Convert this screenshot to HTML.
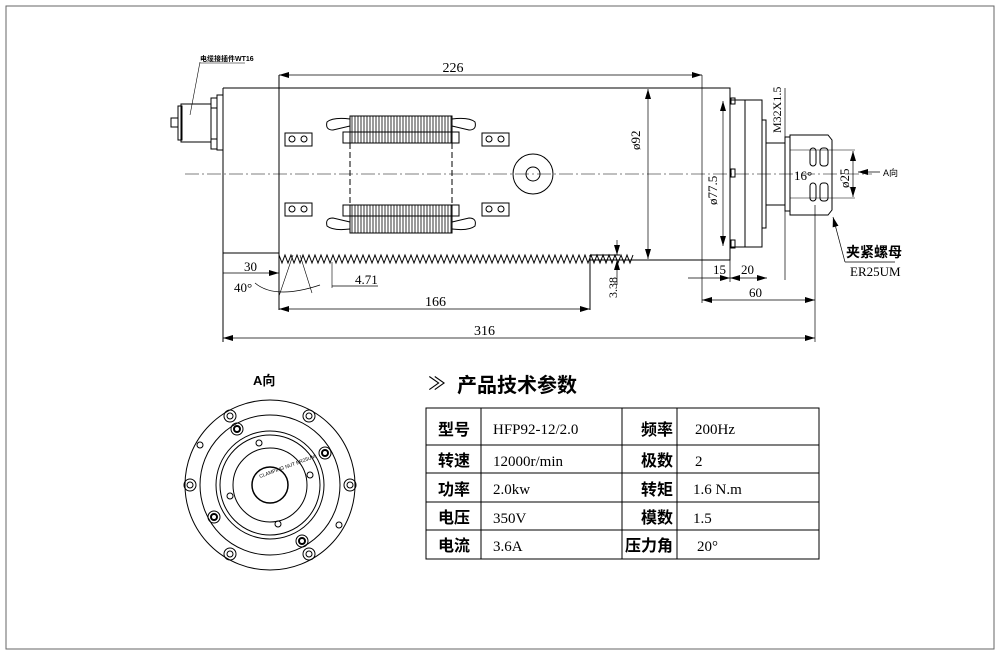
<!DOCTYPE html>
<html><head><meta charset="utf-8"><style>
html,body{margin:0;padding:0;background:#fff}
svg{display:block}
text{font-family:"Liberation Sans","Noto Sans CJK SC",sans-serif;fill:#000}
.n{font-family:"Liberation Serif","Noto Sans CJK SC",serif;}
</style></head><body>
<svg width="1000" height="659" viewBox="0 0 1000 659" xmlns="http://www.w3.org/2000/svg">
<defs>
<marker id="a" markerWidth="10" markerHeight="6" refX="10" refY="3" orient="auto-start-reverse" markerUnits="userSpaceOnUse"><path d="M0,0 L10,3 L0,6z" fill="#000"/></marker>
<pattern id="h" width="3" height="4" patternUnits="userSpaceOnUse"><line x1="1" y1="0" x2="1" y2="4" stroke="#000" stroke-width="0.8"/></pattern>
</defs>
<rect x="6" y="6" width="988" height="643" fill="none" stroke="#666" stroke-width="1"/>
<g fill="none" stroke="#000" stroke-width="1">
<line x1="185" y1="174" x2="872" y2="174" stroke-dasharray="14,3,2,3" stroke-width="0.6"/>
<rect x="217" y="95" width="6" height="55"/>
<rect x="211" y="98" width="6" height="10"/><rect x="211" y="139" width="6" height="10"/>
<rect x="181" y="104" width="30" height="38"/>
<rect x="178" y="106" width="4" height="34"/>
<rect x="171" y="118" width="7" height="9"/>
<line x1="190" y1="115" x2="200" y2="62" stroke-width="0.6"/>
<line x1="200" y1="63" x2="245" y2="63" stroke-width="0.6"/>
<path d="M223,88 H730 V260 H590"/>
<path d="M223,88 V253 H279"/>
<line x1="279" y1="75" x2="279" y2="310"/>
<line x1="223" y1="253" x2="223" y2="342"/>
<path d="M279,255 l3,8 l3,-8 l3,8 l3,-8 l3,8 l3,-8 l3,8 l3,-8 l3,8 l3,-8 l3,8 l3,-8 l3,8 l3,-8 l3,8 l3,-8 l3,8 l3,-8 l3,8 l3,-8 l3,8 l3,-8 l3,8 l3,-8 l3,8 l3,-8 l3,8 l3,-8 l3,8 l3,-8 l3,8 l3,-8 l3,8 l3,-8 l3,8 l3,-8 l3,8 l3,-8 l3,8 l3,-8 l3,8 l3,-8 l3,8 l3,-8 l3,8 l3,-8 l3,8 l3,-8 l3,8 l3,-8 l3,8 l3,-8 l3,8 l3,-8 l3,8 l3,-8 l3,8 l3,-8 l3,8 l3,-8 l3,8 l3,-8 l3,8 l3,-8 l3,8 l3,-8 l3,8 l3,-8 l3,8 l3,-8 l3,8 l3,-8 l3,8 l3,-8 l3,8 l3,-8 l3,8 l3,-8 l3,8 l3,-8 l3,8 l3,-8 l3,8 l3,-8 l3,8 l3,-8 l3,8 l3,-8 l3,8 l3,-8 l3,8 l3,-8 l3,8 l3,-8 l3,8 l3,-8 l3,8 l3,-8 l3,8 l3,-8 l3,8 l3,-8 l3,8 l3,-8 l3,8 l3,-8 l3,8 l3,-8 l3,8 l3,-8 l3,8 l3,-8 l3,8 l3,-8 l3,8 l3,-8 l3,8 l3,-8"/>
<line x1="590" y1="255" x2="590" y2="310"/>
<line x1="590" y1="255" x2="620" y2="255"/>
<rect x="350" y="116" width="102" height="27" fill="url(#h)"/>
<rect x="350" y="205" width="102" height="28" fill="url(#h)"/>
<rect x="343" y="132" width="116" height="11"/><rect x="343" y="205" width="116" height="11"/>
<path d="M350,119 Q333,117 327,122 Q325,130 333,130 L350,126"/>
<path d="M452,119 Q469,117 475,122 Q477,130 469,130 L452,126"/>
<path d="M350,229 Q333,231 327,226 Q325,218 333,218 L350,222"/>
<path d="M452,229 Q469,231 475,226 Q477,218 469,218 L452,222"/>
<line x1="350" y1="143" x2="350" y2="205" stroke-dasharray="6,3"/>
<line x1="452" y1="143" x2="452" y2="205" stroke-dasharray="6,3"/>
<rect x="285" y="133" width="27" height="13"/><rect x="285" y="203" width="27" height="13"/>
<rect x="482" y="133" width="27" height="13"/><rect x="482" y="203" width="27" height="13"/>
<circle cx="292" cy="139" r="3"/><circle cx="304" cy="139" r="3"/><circle cx="292" cy="209" r="3"/><circle cx="304" cy="209" r="3"/>
<circle cx="489" cy="139" r="3"/><circle cx="501" cy="139" r="3"/><circle cx="489" cy="209" r="3"/><circle cx="501" cy="209" r="3"/>
<circle cx="533" cy="174" r="20"/><circle cx="533" cy="174" r="7"/>
<rect x="730" y="100" width="15" height="147"/>
<rect x="745" y="100" width="17" height="147"/>
<rect x="762" y="120" width="4" height="108"/>
<rect x="766" y="143" width="19" height="62"/>
<rect x="785" y="137" width="5" height="74"/>
<path d="M790,135 H828 L832,140 V210 L828,215 H790 Z"/>
<rect x="810" y="148" width="6" height="18" rx="3"/><rect x="810" y="183" width="6" height="18" rx="3"/>
<rect x="820" y="148" width="8" height="18" rx="3"/><rect x="820" y="183" width="8" height="18" rx="3"/>
<line x1="790" y1="150" x2="855" y2="150" stroke-width="0.6"/>
<line x1="790" y1="198" x2="855" y2="198" stroke-width="0.6"/>
<rect x="731" y="98" width="4" height="6"/><rect x="731" y="169" width="4" height="8"/><rect x="731" y="240" width="4" height="8"/>
<line x1="279" y1="75" x2="702" y2="75" marker-start="url(#a)" marker-end="url(#a)" stroke-width="0.7"/>
<line x1="702" y1="75" x2="702" y2="303" stroke-width="0.7"/>
<line x1="648" y1="89" x2="648" y2="259" marker-start="url(#a)" marker-end="url(#a)" stroke-width="0.7"/>
<line x1="723" y1="101" x2="723" y2="246" marker-start="url(#a)" marker-end="url(#a)" stroke-width="0.7"/>
<line x1="785" y1="88" x2="785" y2="280" stroke-width="0.7"/>
<line x1="853" y1="151" x2="853" y2="197" marker-start="url(#a)" marker-end="url(#a)" stroke-width="0.7"/>
<line x1="880" y1="172" x2="858" y2="172" marker-end="url(#a)" stroke-width="0.7"/>
<line x1="845" y1="262" x2="833" y2="217" marker-end="url(#a)" stroke-width="0.7"/>
<line x1="845" y1="262" x2="895" y2="262" stroke-width="0.7"/>
<line x1="688" y1="278" x2="730" y2="278" marker-end="url(#a)" stroke-width="0.7"/>
<line x1="730" y1="278" x2="767" y2="278" marker-start="url(#a)" marker-end="url(#a)" stroke-width="0.7"/>
<line x1="730" y1="260" x2="730" y2="282" stroke-width="0.7"/>
<line x1="702" y1="300" x2="815" y2="300" marker-start="url(#a)" marker-end="url(#a)" stroke-width="0.7"/>
<line x1="815" y1="205" x2="815" y2="342" stroke-width="0.7"/>
<line x1="223" y1="338" x2="815" y2="338" marker-start="url(#a)" marker-end="url(#a)" stroke-width="0.7"/>
<line x1="279" y1="309" x2="590" y2="309" marker-start="url(#a)" marker-end="url(#a)" stroke-width="0.7"/>
<line x1="617" y1="240" x2="617" y2="255" marker-end="url(#a)" stroke-width="0.7"/>
<line x1="617" y1="285" x2="617" y2="260" marker-end="url(#a)" stroke-width="0.7"/>
<line x1="600" y1="260" x2="625" y2="260" stroke-width="0.7"/>
<line x1="223" y1="273" x2="279" y2="273" marker-end="url(#a)" stroke-width="0.7"/>
<path d="M255,283 Q275,300 320,285" stroke-width="0.7"/>
<line x1="279" y1="296" x2="293" y2="255" stroke-width="0.6"/><line x1="312" y1="293" x2="300" y2="255" stroke-width="0.6"/>
<line x1="332" y1="286" x2="378" y2="286" stroke-width="0.7"/>
<line x1="332" y1="262" x2="332" y2="288" stroke-width="0.6"/>
<circle cx="270" cy="485" r="85"/><circle cx="270" cy="485" r="70"/>
<circle cx="270" cy="485" r="54"/><circle cx="270" cy="485" r="50"/>
<circle cx="270" cy="485" r="37"/><circle cx="270" cy="485" r="18" stroke-width="1.5"/>
</g>
<g fill="none" stroke="#000" stroke-width="1">
<circle cx="230" cy="416" r="6"/><circle cx="230" cy="416" r="3"/>
<circle cx="309" cy="416" r="6"/><circle cx="309" cy="416" r="3"/>
<circle cx="190" cy="485" r="6"/><circle cx="190" cy="485" r="3"/>
<circle cx="350" cy="485" r="6"/><circle cx="350" cy="485" r="3"/>
<circle cx="230" cy="554" r="6"/><circle cx="230" cy="554" r="3"/>
<circle cx="309" cy="554" r="6"/><circle cx="309" cy="554" r="3"/>
<circle cx="237" cy="429" r="6"/><circle cx="237" cy="429" r="3" stroke-width="2"/>
<circle cx="325" cy="453" r="6"/><circle cx="325" cy="453" r="3" stroke-width="2"/>
<circle cx="214" cy="517" r="6"/><circle cx="214" cy="517" r="3" stroke-width="2"/>
<circle cx="302" cy="541" r="6"/><circle cx="302" cy="541" r="3" stroke-width="2"/>
<circle cx="200" cy="445" r="3"/><circle cx="339" cy="525" r="3"/>
<circle cx="259" cy="443" r="3"/><circle cx="310" cy="475" r="3"/><circle cx="230" cy="496" r="3"/><circle cx="278" cy="524" r="3"/>
</g>
<text x="260" y="478" font-size="5" transform="rotate(-20 260 478)">CLAMPING NUT ER25UM</text>
<text x="200" y="61" font-size="7" font-weight="bold">电缆接插件WT16</text>
<text class="n" x="453" y="72" font-size="14" text-anchor="middle">226</text>
<text class="n" x="640" y="150" font-size="13" transform="rotate(-90 640 150)">ø92</text>
<text class="n" x="717" y="205" font-size="13" transform="rotate(-90 717 205)">ø77.5</text>
<text class="n" x="781" y="133" font-size="12" transform="rotate(-90 781 133)">M32X1.5</text>
<text class="n" x="849" y="188" font-size="13" transform="rotate(-90 849 188)">ø25</text>
<text class="n" x="794" y="180" font-size="13">16°</text>
<text x="883" y="176" font-size="9">A向</text>
<text x="846" y="257" font-size="14" font-weight="bold">夹紧螺母</text>
<text class="n" x="850" y="276" font-size="13">ER25UM</text>
<text class="n" x="713" y="274" font-size="13">15</text>
<text class="n" x="741" y="274" font-size="13">20</text>
<text class="n" x="749" y="297" font-size="13">60</text>
<text class="n" x="474" y="335" font-size="14">316</text>
<text class="n" x="425" y="306" font-size="14">166</text>
<text class="n" x="355" y="284" font-size="13">4.71</text>
<text class="n" x="244" y="271" font-size="13">30</text>
<text class="n" x="234" y="292" font-size="13">40°</text>
<text class="n" x="617" y="298" font-size="12" transform="rotate(-90 617 298)">3.38</text>
<text x="253" y="385" font-size="13" font-weight="bold">A向</text>
<text x="428" y="390" font-size="18">≫</text>
<text x="457" y="392" font-size="20" font-weight="bold">产品技术参数</text>
<g fill="none" stroke="#000" stroke-width="1">
<rect x="426" y="408" width="393" height="151"/>
<line x1="426" y1="445" x2="819" y2="445"/><line x1="426" y1="473" x2="819" y2="473"/>
<line x1="426" y1="502" x2="819" y2="502"/><line x1="426" y1="530" x2="819" y2="530"/>
<line x1="481" y1="408" x2="481" y2="559"/><line x1="622" y1="408" x2="622" y2="559"/><line x1="677" y1="408" x2="677" y2="559"/>
</g>
<g font-size="16" font-weight="bold">
<text x="438" y="435">型号</text><text x="438" y="466">转速</text><text x="438" y="495">功率</text><text x="438" y="523">电压</text><text x="438" y="551">电流</text>
<text x="641" y="435">频率</text><text x="641" y="466">极数</text><text x="641" y="495">转矩</text><text x="641" y="523">模数</text><text x="625" y="551">压力角</text>
</g>
<g font-size="15">
<text class="n" x="493" y="434">HFP92-12/2.0</text><text class="n" x="493" y="466">12000r/min</text><text class="n" x="493" y="494">2.0kw</text><text class="n" x="493" y="523">350V</text><text class="n" x="493" y="551">3.6A</text>
<text class="n" x="695" y="434">200Hz</text><text class="n" x="695" y="466">2</text><text class="n" x="693" y="494">1.6 N.m</text><text class="n" x="693" y="523">1.5</text><text class="n" x="697" y="551">20°</text>
</g>
</svg>
</body></html>
